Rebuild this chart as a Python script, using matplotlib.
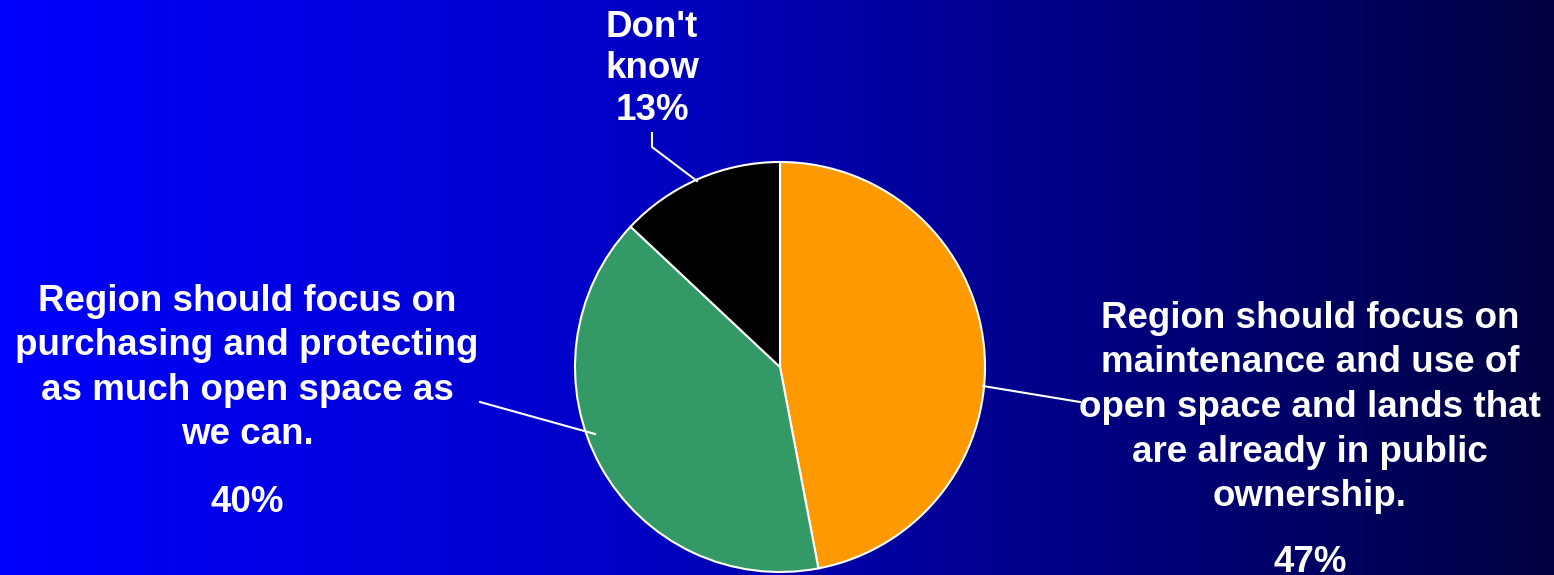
import numpy as np
import matplotlib.pyplot as plt
from matplotlib.colors import LinearSegmentedColormap

# Survey answers and shares
answers = ["Region should focus on\nmaintenance and use of\nopen space and lands that\nare already in public\nownership.",
           "Region should focus on\npurchasing and protecting\nas much open space as\nwe can.",
           "Don't\nknow"]
shares = [47, 40, 13]
slice_colors = ["#FF9900", "#339966", "#000000"]

W, H = 1554, 575
fig = plt.figure(figsize=(W / 100, H / 100), dpi=100)
ax = fig.add_axes([0, 0, 1, 1])

# horizontal blue-to-navy background
bg = LinearSegmentedColormap.from_list(
    "bg", [(0.0, (0, 0, 1.0)), (0.39, (0, 0, 200 / 255)), (0.64, (0, 0, 144 / 255)),
           (0.93, (0, 0, 82 / 255)), (1.0, (0, 0, 62 / 255))])
ax.imshow(np.linspace(0, 1, 512)[None, :], cmap=bg, aspect="auto",
          extent=[0, W, 0, H], zorder=0)

cx, cy, r = 780, H - 367, 205
ax.pie(shares, colors=slice_colors, startangle=90, counterclock=False,
       center=(cx, cy), radius=r, frame=True,
       wedgeprops=dict(edgecolor="white", linewidth=1.5, zorder=2))
ax.set_xlim(0, W)
ax.set_ylim(0, H)
ax.axis("off")

font = dict(family="Liberation Sans", weight="bold", color="white", size=26.5,
            ha="center", va="center")

# label text
ax.text(1310, H - 407.5, answers[0], linespacing=1.36, **font)
ax.text(1310, H - 563, f"{shares[0]}%", **font)
ax.text(247, H - 368, answers[1], linespacing=1.35, **font)
ax.text(247, H - 503, f"{shares[1]}%", **font)
ax.text(652, H - 48, answers[2], linespacing=1.2, **font)
ax.text(652, H - 110, f"{shares[2]}%", **font)

# leader lines
lw = 1.5
ax.plot([983, 1080], [H - 386, H - 402], color="white", lw=lw, zorder=3)
ax.plot([480, 595], [H - 402, H - 434], color="white", lw=lw, zorder=3)
ax.plot([652, 652, 697], [H - 133, H - 147, H - 181], color="white", lw=lw, zorder=3)

fig.savefig("out.png", dpi=100)
